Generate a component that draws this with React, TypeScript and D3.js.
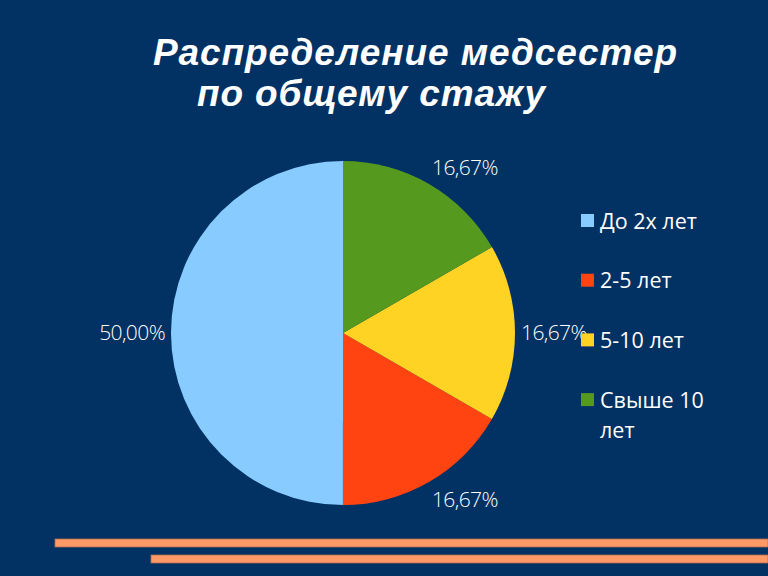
import React from "react";
import * as d3 from "d3";

const categories = ["До 2х лет", "2-5 лет", "5-10 лет", "Свыше 10 лет"];
const values = [50.0, 16.67, 16.67, 16.67];
const valueLabels = ["50,00%", "16,67%", "16,67%", "16,67%"];
const colors = ["#88CCFF", "#FF4412", "#FFD324", "#55991F"];
const legendLines = [["До 2х лет"], ["2-5 лет"], ["5-10 лет"], ["Свыше 10", "лет"]];
const titleLines = ["Распределение медсестер", "по общему стажу"];

const W = 768, H = 576;

export default function App() {
  const cx = 343, cy = 333, r = 172;
  const pie = d3.pie<number>().sort(null).startAngle(0).endAngle(-2 * Math.PI);
  const arcs = pie(values);
  const arc = d3.arc<d3.PieArcDatum<number>>().innerRadius(0).outerRadius(r);
  const labelFont = "'Open Sans', 'Noto Sans', sans-serif";
  return (
    <svg width={W} height={H} style={{ position: "absolute", left: 0, top: 0 }}>
      <rect x={0} y={0} width={W} height={H} fill="#023163" />
      <text x={153} y={65} fill="#fff" fontFamily="'Liberation Sans', Arial, sans-serif" fontWeight="bold" fontStyle="italic" fontSize={37} textLength={524}>{titleLines[0]}</text>
      <text x={197} y={106} fill="#fff" fontFamily="'Liberation Sans', Arial, sans-serif" fontWeight="bold" fontStyle="italic" fontSize={37} textLength={348}>{titleLines[1]}</text>
      <g transform={`translate(${cx},${cy})`}>
        {arcs.map((a, i) => (
          <path key={i} d={arc(a) || ""} fill={colors[i]} />
        ))}
        {arcs.map((a, i) => {
          const mid = (a.startAngle + a.endAngle) / 2;
          const rr = r + 6;
          const x = Math.sin(mid) * rr;
          const y = -Math.cos(mid) * rr;
          const anchor = x > 1 ? "start" : x < -1 ? "end" : "middle";
          let dy = "0.35em";
          if (y < -20) dy = "-0.2em";
          else if (y > 20) dy = "0.95em";
          return (
            <text key={i} x={x} y={y} dy={dy} textAnchor={anchor} fill="#fff" fontFamily={labelFont} fontWeight={300} fontSize={21} letterSpacing={-0.6}>{valueLabels[i]}</text>
          );
        })}
      </g>
      <g>
        {categories.map((c, i) => {
          const y = 221 + i * 59.7;
          return (
            <g key={c}>
              <rect x={581} y={y - 7} width={13} height={13} fill={colors[i]} />
              {legendLines[i].map((ln, j) => (
                <text key={j} x={600} y={y + j * 30} dy="0.35em" fill="#fff" fontFamily={labelFont} fontSize={21.5}>{ln}</text>
              ))}
            </g>
          );
        })}
      </g>
      <rect x={55} y={539} width={713} height={8} fill="#FF9966" stroke="#B06A50" strokeWidth={0.8} />
      <rect x={151} y={555} width={617} height={8} fill="#FF9966" stroke="#B06A50" strokeWidth={0.8} />
    </svg>
  );
}
